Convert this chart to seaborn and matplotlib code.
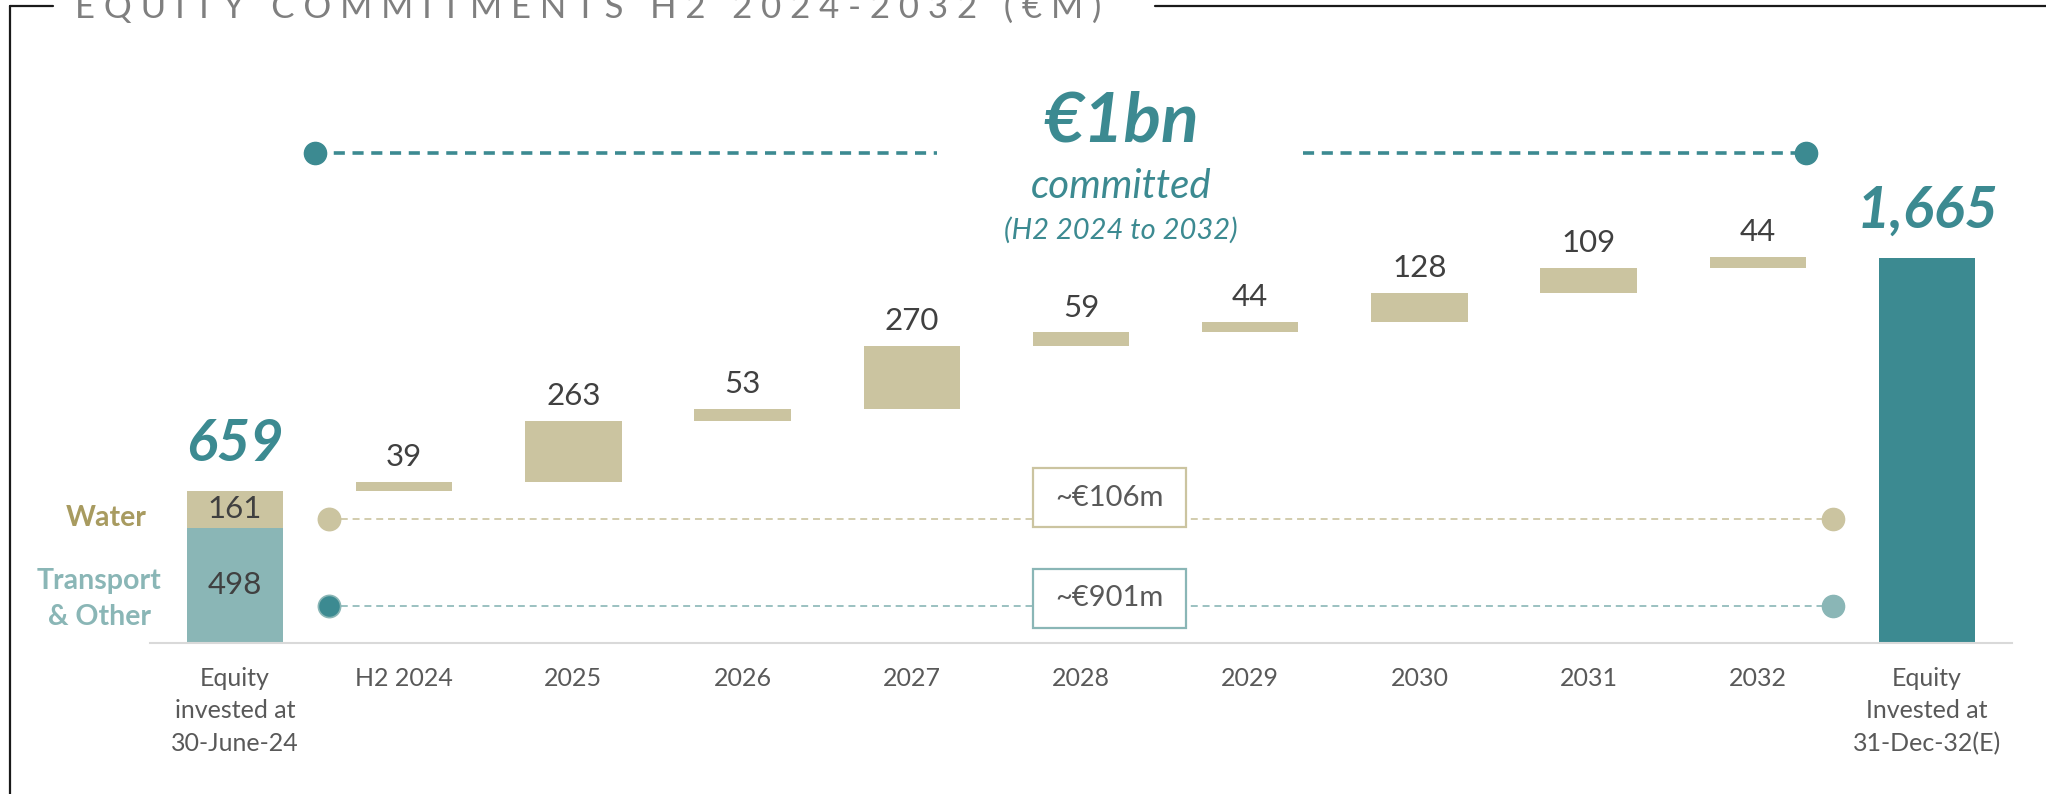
import numpy as np
import matplotlib
matplotlib.use("Agg")
import matplotlib.pyplot as plt
from matplotlib.lines import Line2D
from matplotlib.patches import Rectangle
import seaborn as sns

# values in EUR m
start_label = "Equity\ninvested at\n30-June-24"
end_label = "Equity\nInvested at\n31-Dec-32(E)"
years = ["H2 2024", "2025", "2026", "2027", "2028", "2029", "2030", "2031", "2032"]
commitments = [39, 263, 53, 270, 59, 44, 128, 109, 44]
start_transport = 498
start_water = 161
start_total = 659
end_total = 1665
water_note = "~€106m"
transport_note = "~€901m"

TAN = "#CBC4A0"
LIGHT_TEAL = "#8AB6B6"
TEAL = "#3C8A91"
WATER_TXT = "#A89B60"
DARK_TXT = "#404040"
GREY_TXT = "#595959"

W, H = 2046, 794
X0, DX = 235, 169.2        # pixel centre of first category, pixel step
BASE, PPU = 643, 0.2312    # baseline pixel row, pixels per EUR m


def px_x(p):
    return (p - X0) / DX


def px_y(p):
    return (BASE - p) / PPU


sns.set_theme(style="white")
plt.rcParams["font.family"] = ["Lato", "DejaVu Sans"]
plt.rcParams["lines.scale_dashes"] = False

fig = plt.figure(figsize=(W / 100, H / 100), dpi=100)
ax = fig.add_axes([0, (H - BASE) / H, 1, BASE / H])
ax.patch.set_alpha(0)

order = [start_label] + years + [end_label]
bases = np.concatenate([[start_total], start_total + np.cumsum(commitments)[:-1]])
bar_kw = dict(order=order, width=0.57, errorbar=None, saturation=1, linewidth=0, ax=ax)

sns.barplot(x=[start_label], y=[start_transport], color=LIGHT_TEAL, **bar_kw)
sns.barplot(x=[start_label], y=[start_water], bottom=[start_transport], color=TAN, **bar_kw)
sns.barplot(x=years, y=commitments, bottom=bases, color=TAN, **bar_kw)
sns.barplot(x=[end_label], y=[end_total], color=TEAL, **bar_kw)

ax.set_xlim(px_x(0), px_x(W))
ax.set_ylim(0, BASE / PPU)
ax.set_xlabel("")
ax.set_ylabel("")
ax.set_yticks([])
for s in ["left", "right", "top"]:
    ax.spines[s].set_visible(False)
ax.spines["bottom"].set_color("#D9D9D9")
ax.spines["bottom"].set_linewidth(1.5)
ax.spines["bottom"].set_bounds(-0.5, len(order) - 0.5)
ax.tick_params(axis="x", length=0, pad=17, labelsize=18, labelcolor=GREY_TXT)
plt.setp(ax.get_xticklabels(), linespacing=1.5)

# increments above floating bars
for i, (v, b) in enumerate(zip(commitments, bases)):
    ax.annotate(f"{v}", (i + 1, b + v), xytext=(0, 11.5), textcoords="offset points",
                ha="center", va="baseline", fontsize=22.5, color=DARK_TXT)

# split of the opening bar
ax.text(0, start_transport / 2, f"{start_transport}", ha="center", va="center",
        fontsize=22.5, color=DARK_TXT)
ax.text(0, start_transport + start_water / 2, f"{start_water}", ha="center", va="center",
        fontsize=22.5, color=DARK_TXT)

# totals
big = dict(ha="center", va="baseline", fontsize=41.5, fontweight="bold",
           fontstyle="italic", color=TEAL, textcoords="offset points")
ax.annotate(f"{start_total}", (0, start_total), xytext=(0, 21), **big)
ax.annotate(f"{end_total:,}", (len(order) - 1, end_total), xytext=(0, 21.5), **big)

# side labels
ax.text(px_x(147), px_y(518), "Water", ha="right", va="center", fontsize=20.5,
        fontweight="bold", color=WATER_TXT)
ax.text(px_x(99), px_y(599), "Transport\n& Other", ha="center", va="center",
        fontsize=20.5, fontweight="bold", color=LIGHT_TEAL, linespacing=1.45)

# "€1bn committed" bracket
y_top = px_y(153)
dash_top = dict(color=TEAL, lw=2.6, dashes=(8, 5.5), solid_capstyle="butt")
ax.plot([px_x(315), px_x(937)], [y_top, y_top], **dash_top)
ax.plot([px_x(1303), px_x(1806)], [y_top, y_top], **dash_top)
ax.plot([px_x(315), px_x(1806)], [y_top, y_top], "o", ms=16, color=TEAL, ls="none")

cx = px_x(1121)
ax.text(cx, px_y(142), "€1bn", ha="center", va="baseline", fontsize=50,
        fontweight="bold", fontstyle="italic", color=TEAL)
ax.text(cx, px_y(198), "committed", ha="center", va="baseline", fontsize=29,
        fontstyle="italic", color=TEAL)
ax.text(cx, px_y(239), "(H2 2024 to 2032)", ha="center", va="baseline", fontsize=21,
        fontstyle="italic", color=TEAL)

# sector split lines with boxes
for y_px, line_c, left_c, right_c, note, box_top in [
    (519, TAN, TAN, TAN, water_note, 468),
    (606, LIGHT_TEAL, TEAL, LIGHT_TEAL, transport_note, 569),
]:
    y = px_y(y_px)
    ax.plot([px_x(329), px_x(1833)], [y, y], color=line_c, lw=1.2, dashes=(5, 3.5))
    ax.plot([px_x(329)], [y], "o", ms=16, color=left_c, mec=line_c, mew=1.2)
    ax.plot([px_x(1833)], [y], "o", ms=16, color=right_c, mec=right_c)
    x_l, x_r = px_x(1033), px_x(1186)
    y_b, y_t = px_y(box_top + 59), px_y(box_top)
    ax.add_patch(Rectangle((x_l, y_b), x_r - x_l, y_t - y_b, facecolor="white",
                           edgecolor=line_c, lw=1.6, zorder=3))
    ax.text((x_l + x_r) / 2, (y_b + y_t) / 2, note, ha="center", va="center",
            fontsize=21, color=GREY_TXT, zorder=4)

# frame and title (cut off at the top edge, as on the slide)
title = "   ".join(" ".join(w) for w in "EQUITY COMMITMENTS H2 2024-2032 (€M)".split())
fig.text(75 / W, 1 - 18 / H, title, ha="left", va="baseline", fontsize=25,
         color="#7F7F7F")
frame = dict(transform=fig.transFigure, color="#1A1A1A", lw=1.6)
fig.add_artist(Line2D([10 / W, 10 / W], [0, 1 - 6 / H], **frame))
fig.add_artist(Line2D([10 / W, 53 / W], [1 - 6 / H, 1 - 6 / H], **frame))
fig.add_artist(Line2D([1155 / W, 1], [1 - 6 / H, 1 - 6 / H], **frame))

fig.savefig("out.png", dpi=100)
